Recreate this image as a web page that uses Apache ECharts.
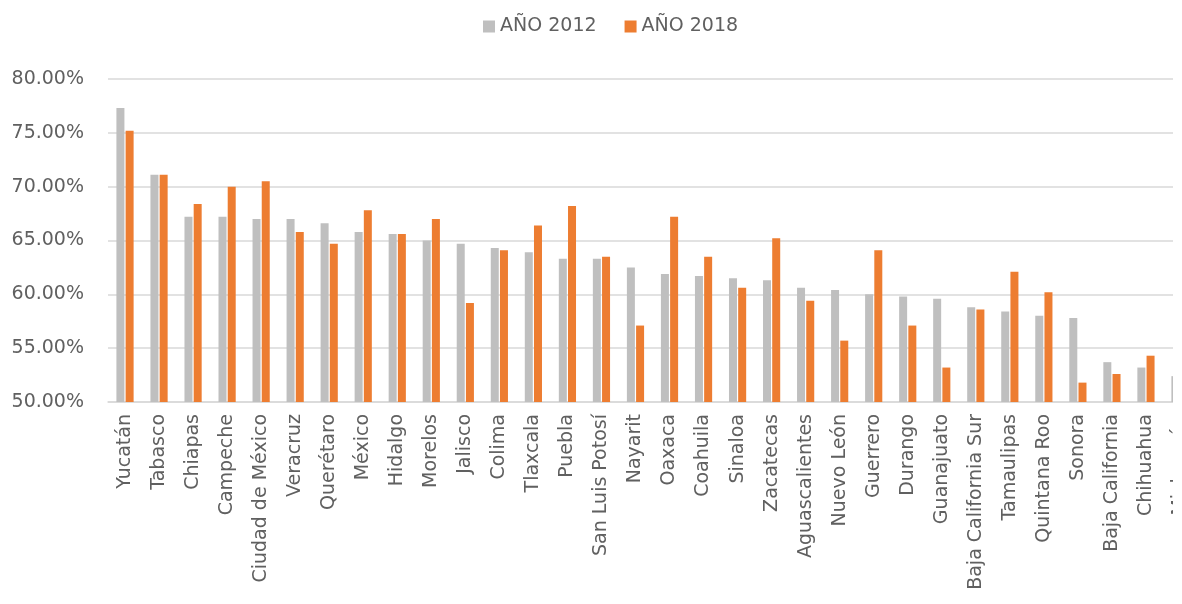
<!DOCTYPE html>
<html>
<head>
<meta charset="utf-8">
<script src="https://cdn.jsdelivr.net/npm/echarts@6/dist/echarts.min.js"></script>
<style>
html,body{margin:0;padding:0;background:#ffffff;}
#wrap{position:absolute;left:0;top:0;width:1173px;height:604px;overflow:hidden;background:#fff;}
#chart{position:absolute;left:0;top:0;width:1240px;height:604px;}
</style>
</head>
<body>
<div id="wrap"><div id="chart"></div></div>
<script>
const categories = ["Yucatán","Tabasco","Chiapas","Campeche","Ciudad de México","Veracruz","Querétaro","México","Hidalgo","Morelos","Jalisco","Colima","Tlaxcala","Puebla","San Luis Potosí","Nayarit","Oaxaca","Coahuila","Sinaloa","Zacatecas","Aguascalientes","Nuevo León","Guerrero","Durango","Guanajuato","Baja California Sur","Tamaulipas","Quintana Roo","Sonora","Baja California","Chihuahua","Michoacán"];
const values2012 = [77.3,71.1,67.2,67.2,67.0,67.0,66.6,65.8,65.6,65.0,64.7,64.3,63.9,63.3,63.3,62.5,61.9,61.7,61.5,61.3,60.6,60.4,60.0,59.8,59.6,58.8,58.4,58.0,57.8,53.7,53.2,52.4];
const values2018 = [75.2,71.1,68.4,70.0,70.5,65.8,64.7,67.8,65.6,67.0,59.2,64.1,66.4,68.2,63.5,57.1,67.2,63.5,60.6,65.2,59.4,55.7,64.1,57.1,53.2,58.6,62.1,60.2,51.8,52.6,54.3,52.0];
const seriesNames = ["AÑO 2012","AÑO 2018"];
const yTicks = {min:50, max:80, interval:5};

const FONT = "DejaVu Sans";
const chart = echarts.init(document.getElementById('chart'), null, {renderer:'canvas'});
chart.setOption({
  animation:false,
  backgroundColor:'#ffffff',
  color:['#bfbfbf','#ed7d31'],
  legend:{
    left:478, top:12,
    icon:'rect', itemWidth:12, itemHeight:12, itemGap:28,
    textStyle:{fontFamily:FONT, fontSize:19, color:'#606060'},
    data:seriesNames
  },
  grid:{left:108, top:79, width:1089, bottom:202, containLabel:false},
  xAxis:{
    type:'category',
    data:categories,
    axisLine:{show:true, lineStyle:{color:'#d9d9d9', width:1.5}},
    axisTick:{show:false},
    axisLabel:{rotate:90, interval:0, margin:12, fontFamily:FONT, fontSize:19, color:'#606060'}
  },
  yAxis:{
    type:'value',
    min:yTicks.min, max:yTicks.max, interval:yTicks.interval,
    axisLine:{show:false},
    axisTick:{show:false},
    splitLine:{lineStyle:{color:'#d9d9d9', width:1.5}},
    axisLabel:{margin:24, fontFamily:FONT, fontSize:19, color:'#606060',
      formatter:v => v.toFixed(2) + '%'}
  },
  series:[
    {name:seriesNames[0], type:'bar', data:values2012, barWidth:8, barGap:'15%'},
    {name:seriesNames[1], type:'bar', data:values2018, barWidth:8, barGap:'15%'}
  ]
});
</script>
</body>
</html>
